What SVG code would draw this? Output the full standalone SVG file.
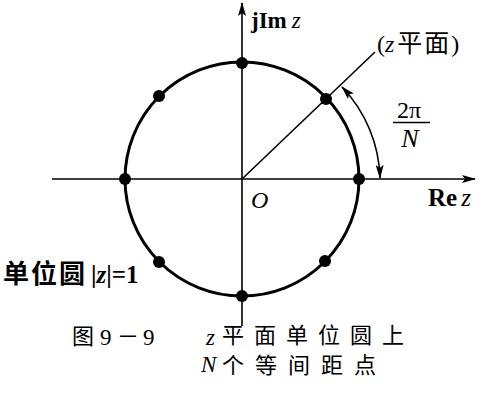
<svg xmlns="http://www.w3.org/2000/svg" width="481" height="400" viewBox="0 0 481 400">
<style>
.ax{stroke:#000;stroke-width:1.6;fill:none}
.circ{stroke:#000;stroke-width:3;fill:none}
.dot{fill:#000}
.t{font-family:"Liberation Serif","Noto Sans CJK SC",serif;fill:#000}
.c{font-family:"Noto Sans CJK SC",serif}
.i{font-style:italic}
.b{font-weight:bold}
</style>
<defs>
<marker id="ah" viewBox="0 0 14 8" refX="13" refY="4" markerWidth="14" markerHeight="8" markerUnits="userSpaceOnUse" orient="auto-start-reverse">
<path d="M0,0 L14,4 L0,8 L3,4 Z" fill="#000"/>
</marker>
</defs>
<rect width="481" height="400" fill="#fff"/>
<g id="connectors">
<line class="ax" x1="52" y1="179" x2="475" y2="179" marker-end="url(#ah)"/>
<line class="ax" x1="242" y1="326" x2="242" y2="3" marker-end="url(#ah)"/>
<line class="ax" x1="242" y1="179" x2="375" y2="52"/>
<path class="ax" d="M 380 178 A 137 137 0 0 0 342 87" marker-start="url(#ah)" marker-end="url(#ah)"/>
</g>
<g id="unit-circle">
<circle class="circ" cx="242" cy="179" r="117"/>
</g>
<g id="points">
<circle class="dot" cx="359" cy="179" r="6"/>
<circle class="dot" cx="326" cy="99" r="6"/>
<circle class="dot" cx="242" cy="63" r="6"/>
<circle class="dot" cx="159" cy="96" r="6"/>
<circle class="dot" cx="125" cy="179" r="6"/>
<circle class="dot" cx="159" cy="262" r="6"/>
<circle class="dot" cx="325" cy="261" r="6"/>
<circle class="dot" cx="242" cy="296" r="6"/>
</g>
<g id="labels">
<text class="t" x="251" y="28" font-size="23"><tspan class="b">jIm</tspan><tspan class="i" dx="5">z</tspan></text>
<text class="t" x="377" y="52" font-size="24">(<tspan class="i">z</tspan><tspan class="c" dx="3" font-size="25" letter-spacing="2">平面</tspan>)</text>
<text class="t" x="409" y="118" font-size="24" text-anchor="middle">2π</text>
<line x1="393" y1="122.5" x2="430" y2="122.5" stroke="#000" stroke-width="1.6"/>
<text class="t i" x="410" y="147" font-size="26" text-anchor="middle">N</text>
<text class="t" x="428" y="206" font-size="25"><tspan class="b">Re</tspan><tspan class="i" dx="4">z</tspan></text>
<text class="t i" x="251" y="208" font-size="24">O</text>
<text class="t b" x="3" y="283" font-size="25"><tspan class="c" font-size="26" letter-spacing="2">单位圆</tspan><tspan x="91">|</tspan><tspan class="i">z</tspan>|=1</text>
</g>
<g id="caption">
<text class="t" font-size="23"><tspan class="c" x="72" y="344" font-size="22">图</tspan><tspan x="100" y="345">9</tspan><tspan class="c" x="117" y="344" font-size="22">－</tspan><tspan x="143" y="345">9</tspan><tspan class="i" x="206" y="345">z</tspan><tspan class="c" x="222" y="343" font-size="22" letter-spacing="10">平面单位圆上</tspan></text>
<text class="t" font-size="23"><tspan class="i" x="201" y="372">N</tspan><tspan class="c" x="222" y="373" font-size="22" letter-spacing="11">个等间距点</tspan></text>
</g>
</svg>
